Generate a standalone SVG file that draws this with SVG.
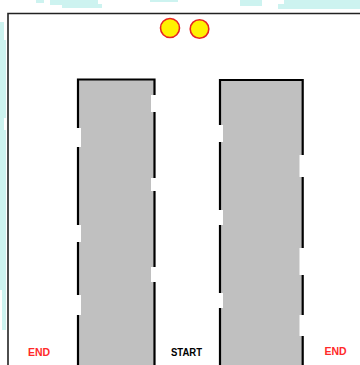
<svg xmlns="http://www.w3.org/2000/svg" width="360" height="365" viewBox="0 0 360 365">
<style>
.bg{fill:#cdf3f0}
.block{fill:#c0c0c0}
.gap{fill:#ffffff}
.edge{stroke:#000;stroke-width:2.2;fill:none}
.frame{stroke:#222;stroke-width:1.6;fill:none}
.ball{fill:#fff200;stroke:#e82424;stroke-width:1.6}
.lbl{font-family:"Liberation Sans",Arial,sans-serif;font-weight:bold;font-size:10.5px;text-anchor:middle}
</style>
<rect width="360" height="365" fill="#ffffff"/>
<g id="background">
<path class="bg" d="M50 0H98V4H102V8H62V5H50Z"/>
<path class="bg" d="M36 0H44V3H36Z"/>
<path class="bg" d="M150 0H178V2H150Z"/>
<path class="bg" d="M278 4H284V0H360V9H278Z"/>
<path class="bg" d="M240 0H262V6H240Z"/>
<path class="bg" d="M0 40H6V118H4V130H6V330H2V290H0Z"/>
<path class="bg" d="M0 22H4V40H0Z"/>
</g>
<g id="frame">
<path class="frame" d="M8 365V13.5H360"/>
</g>
<g id="balls">
<circle id="ball1" class="ball" cx="170" cy="28" r="9.5"/>
<circle id="ball2" class="ball" cx="199.5" cy="29" r="9.3"/>
</g>
<g id="left-block">
<rect class="block" x="78" y="79" width="76" height="286"/>
<rect class="gap" x="75" y="128" width="6" height="19"/>
<rect class="gap" x="75" y="225" width="6" height="17"/>
<rect class="gap" x="75" y="295" width="6" height="20"/>
<rect class="gap" x="151" y="95" width="6" height="17"/>
<rect class="gap" x="151" y="178" width="6" height="13"/>
<rect class="gap" x="151" y="267" width="6" height="15"/>
<path class="edge" d="M78 128V79.5H154.5V95"/>
<path class="edge" d="M78 147V225M78 242V295M78 315V365"/>
<path class="edge" d="M154.5 112V178M154.5 191V267M154.5 282V365"/>
</g>
<g id="right-block">
<rect class="block" x="220" y="79.5" width="82.5" height="285.5"/>
<rect class="gap" x="217" y="125" width="6" height="17"/>
<rect class="gap" x="217" y="210" width="6" height="15"/>
<rect class="gap" x="217" y="293" width="6" height="15"/>
<rect class="gap" x="299.5" y="155" width="6" height="22"/>
<rect class="gap" x="299.5" y="248" width="6" height="27"/>
<rect class="gap" x="299.5" y="315" width="6" height="21"/>
<path class="edge" d="M220 125V80H302.7V155"/>
<path class="edge" d="M220 142V210M220 225V293M220 308V365"/>
<path class="edge" d="M302.7 177V248M302.7 275V315M302.7 336V365"/>
</g>
<g id="labels">
<text class="lbl" x="39" y="356" fill="#ff2a2a">END</text>
<text class="lbl" x="186.5" y="356" fill="#000" textLength="31" lengthAdjust="spacingAndGlyphs">START</text>
<text class="lbl" x="335.5" y="355" fill="#ff2a2a">END</text>
</g>
</svg>
